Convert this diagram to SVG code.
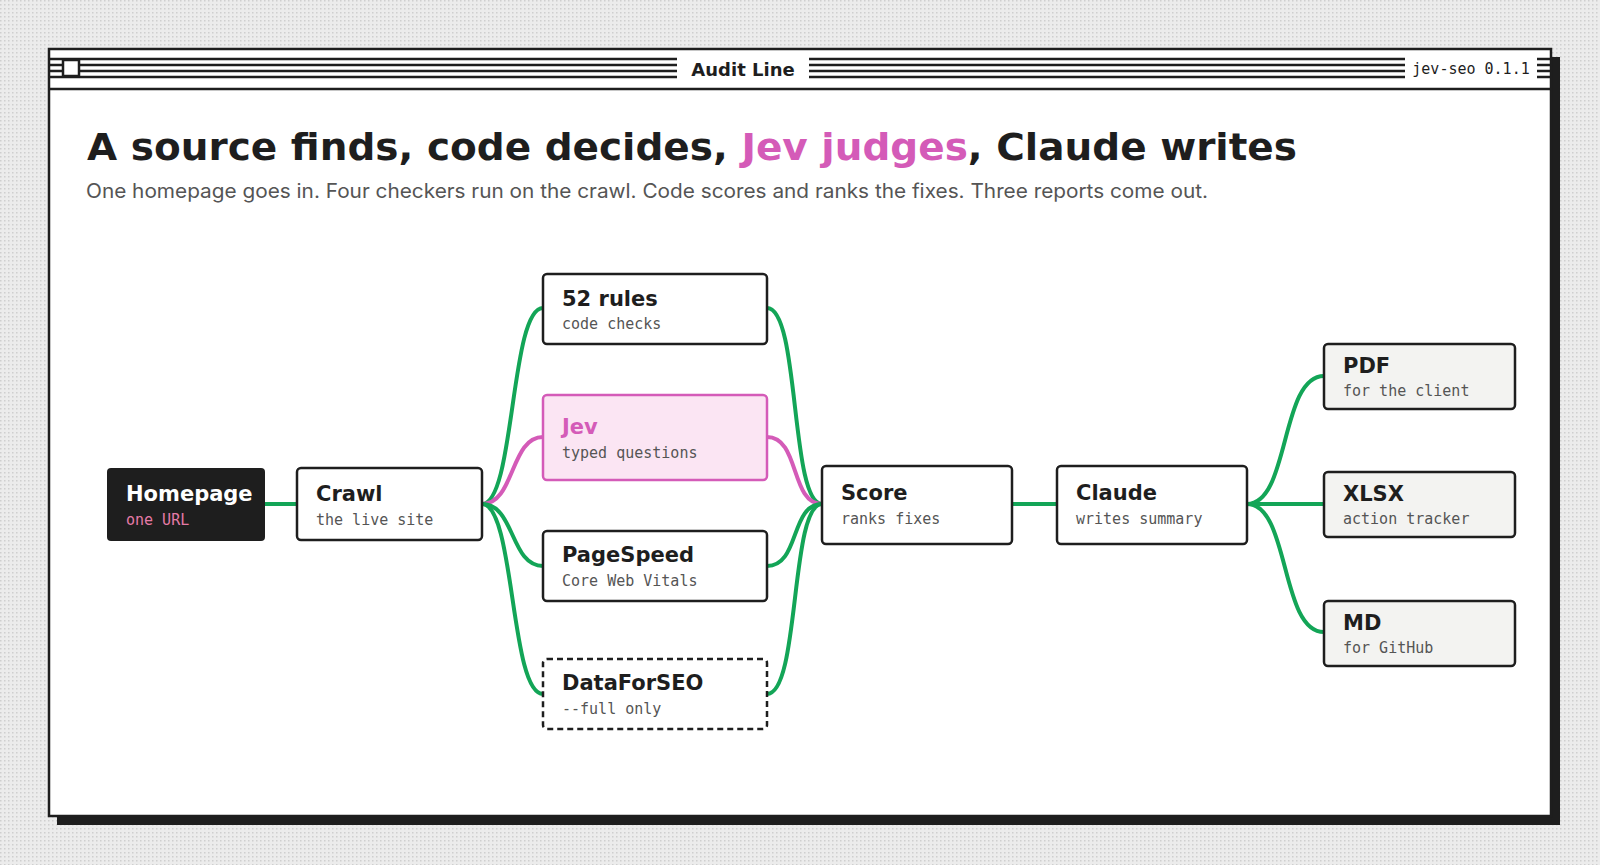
<svg xmlns="http://www.w3.org/2000/svg" width="1600" height="865" viewBox="0 0 1600 865">
<defs>
<pattern id="dots" width="4" height="4" patternUnits="userSpaceOnUse"><rect width="4" height="4" fill="#ececec"/><rect width="1.5" height="1.5" fill="#cfcfcf"/></pattern>
<style>
.nt{font-family:"DejaVu Sans",sans-serif;font-weight:bold;font-size:21px;fill:#1e1e1e}
.ns{font-family:"DejaVu Sans Mono",monospace;font-size:15px;fill:#555}
.box{fill:#fff;stroke:#1e1e1e;stroke-width:2.5}
.out{fill:#f3f3f1;stroke:#1e1e1e;stroke-width:2.5}
.c{fill:none;stroke:#13a557;stroke-width:4}
.bar{stroke:#1e1e1e;stroke-width:2.5}
</style>
</defs>
<rect width="1600" height="865" fill="url(#dots)"/>
<rect x="57" y="57" width="1503" height="768" fill="#1e1e1e"/>
<rect x="49" y="49" width="1502" height="767" fill="#fff" stroke="#1e1e1e" stroke-width="2.5"/>
<g class="bar">
<line x1="49" y1="59" x2="1551" y2="59"/><line x1="49" y1="65" x2="1551" y2="65"/><line x1="49" y1="71" x2="1551" y2="71"/><line x1="49" y1="77" x2="1551" y2="77"/>
<line x1="49" y1="89" x2="1551" y2="89"/>
</g>
<rect x="63" y="60" width="16" height="16" fill="#fff" stroke="#1e1e1e" stroke-width="2.5"/>
<rect x="677" y="55" width="132" height="26" fill="#fff"/>
<text x="743" y="76" text-anchor="middle" font-family="DejaVu Sans, sans-serif" font-weight="bold" font-size="18" fill="#1e1e1e">Audit Line</text>
<rect x="1405" y="55" width="132" height="26" fill="#fff"/>
<text x="1471" y="74" text-anchor="middle" font-family="DejaVu Sans Mono, monospace" font-size="15" fill="#1e1e1e">jev-seo 0.1.1</text>
<text x="87" y="160" font-family="DejaVu Sans, sans-serif" font-weight="bold" font-size="38" fill="#1e1e1e" textLength="1210" lengthAdjust="spacingAndGlyphs">A source finds, code decides, <tspan fill="#d45bb8">Jev judges</tspan>, Claude writes</text>
<text x="86" y="198" font-family="Inter, sans-serif" font-size="20" fill="#555" textLength="1122" lengthAdjust="spacingAndGlyphs">One homepage goes in. Four checkers run on the crawl. Code scores and ranks the fixes. Three reports come out.</text>
<g id="connectors">
<line class="c" x1="265" y1="504" x2="297" y2="504"/>
<path class="c" d="M482,504 C515,504 510,308 543,308"/>
<path class="c" d="M482,504 C515,504 510,437 543,437" style="stroke:#d45bb8"/>
<path class="c" d="M482,504 C515,504 510,566 543,566"/>
<path class="c" d="M482,504 C515,504 510,694 543,694"/>
<path class="c" d="M767,308 C800,308 790,504 822,504"/>
<path class="c" d="M767,437 C800,437 790,504 822,504" style="stroke:#d45bb8"/>
<path class="c" d="M767,566 C800,566 790,504 822,504"/>
<path class="c" d="M767,694 C800,694 790,504 822,504"/>
<line class="c" x1="1012" y1="504" x2="1057" y2="504"/>
<path class="c" d="M1247,504 C1290,504 1280,376 1324,376"/>
<line class="c" x1="1247" y1="504" x2="1324" y2="504"/>
<path class="c" d="M1247,504 C1290,504 1280,632 1324,632"/>
</g>
<g id="homepage"><rect x="107" y="468" width="158" height="73" rx="4" fill="#1e1e1e"/><text class="nt" x="126" y="501" style="fill:#fff">Homepage</text><text class="ns" x="126" y="525" style="fill:#e57aa6">one URL</text></g>
<g id="crawl"><rect class="box" x="297" y="468" width="185" height="72" rx="4"/><text class="nt" x="316" y="501">Crawl</text><text class="ns" x="316" y="525">the live site</text></g>
<g id="rules"><rect class="box" x="543" y="274" width="224" height="70" rx="4"/><text class="nt" x="562" y="306">52 rules</text><text class="ns" x="562" y="329">code checks</text></g>
<g id="jev"><rect x="543" y="395" width="224" height="85" rx="4" fill="#fbe5f3" stroke="#d45bb8" stroke-width="2.5"/><text class="nt" x="562" y="434" style="fill:#d45bb8">Jev</text><text class="ns" x="562" y="458">typed questions</text></g>
<g id="pagespeed"><rect class="box" x="543" y="531" width="224" height="70" rx="4"/><text class="nt" x="562" y="562">PageSpeed</text><text class="ns" x="562" y="586">Core Web Vitals</text></g>
<g id="dataforseo"><rect class="box" x="543" y="659" width="224" height="70" rx="4" stroke-dasharray="6 4"/><text class="nt" x="562" y="690">DataForSEO</text><text class="ns" x="562" y="714">--full only</text></g>
<g id="score"><rect class="box" x="822" y="466" width="190" height="78" rx="4"/><text class="nt" x="841" y="500">Score</text><text class="ns" x="841" y="524">ranks fixes</text></g>
<g id="claude"><rect class="box" x="1057" y="466" width="190" height="78" rx="4"/><text class="nt" x="1076" y="500">Claude</text><text class="ns" x="1076" y="524">writes summary</text></g>
<g id="pdf"><rect class="out" x="1324" y="344" width="191" height="65" rx="4"/><text class="nt" x="1343" y="373">PDF</text><text class="ns" x="1343" y="396">for the client</text></g>
<g id="xlsx"><rect class="out" x="1324" y="472" width="191" height="65" rx="4"/><text class="nt" x="1343" y="501">XLSX</text><text class="ns" x="1343" y="524">action tracker</text></g>
<g id="md"><rect class="out" x="1324" y="601" width="191" height="65" rx="4"/><text class="nt" x="1343" y="630">MD</text><text class="ns" x="1343" y="653">for GitHub</text></g>
</svg>
